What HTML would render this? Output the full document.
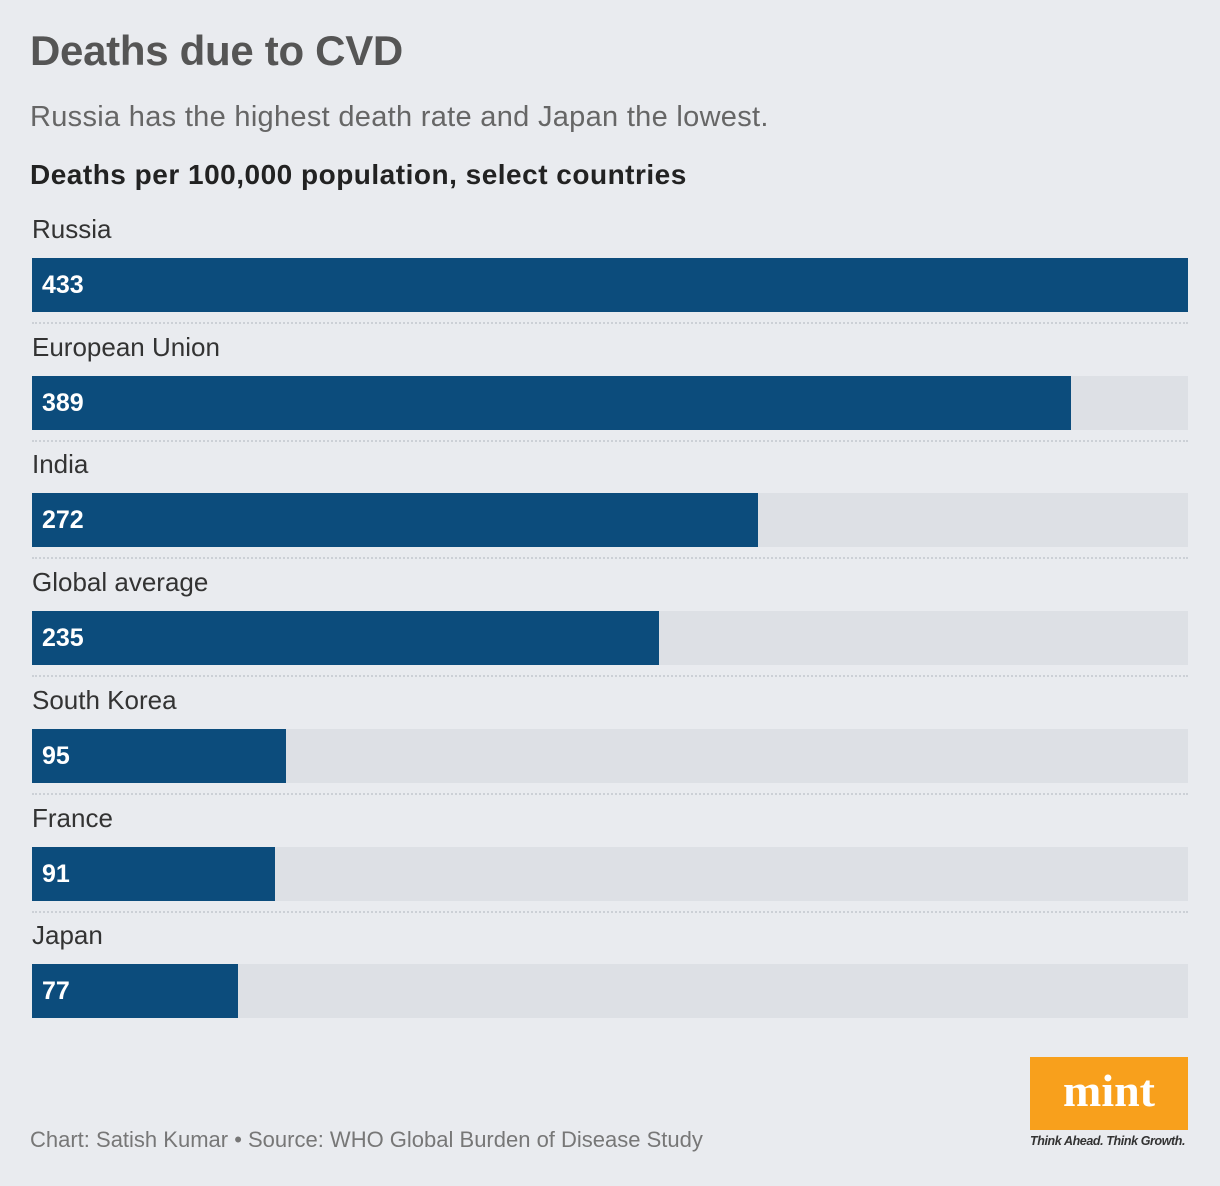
<!DOCTYPE html>
<html><head><meta charset="utf-8"><style>
body{margin:0;width:1220px;height:1186px;background:#e9ebef;font-family:"Liberation Sans",sans-serif;position:relative;overflow:hidden}
.abs{position:absolute}
#title{left:30px;top:27px;font-size:42px;font-weight:bold;color:#555;letter-spacing:-0.3px}
#sub{left:30px;top:101px;font-size:29px;color:#666;letter-spacing:0.3px}
#ctitle{left:30px;top:159px;font-size:28px;font-weight:bold;color:#222;letter-spacing:0.5px}
.lab{font-size:26px;color:#333;left:32px}
.track{left:32px;width:1156px;height:54px;background:#dde0e5}
.bar{left:32px;height:54px;background:#0c4c7c}
.val{left:42px;font-size:25px;font-weight:bold;color:#fff;line-height:54px}
.sep{left:32px;width:1156px;height:0;border-top:2px dotted #ccd0d6}
#foot{left:30px;top:1127px;font-size:22px;color:#777}
#logo{left:1030px;top:1057px;width:158px;height:73px;background:#f8a01c;color:#fff;font-family:"Liberation Serif",serif;font-weight:bold;font-size:46px;text-align:center;line-height:68px}
#tag{left:1030px;top:1134px;font-size:12.5px;font-style:italic;font-weight:bold;color:#333;letter-spacing:-0.4px}
</style></head><body>
<div class="abs" id="title">Deaths due to CVD</div>
<div class="abs" id="sub">Russia has the highest death rate and Japan the lowest.</div>
<div class="abs" id="ctitle">Deaths per 100,000 population, select countries</div>
<div id="chart"></div>
<div class="abs" id="foot">Chart: Satish Kumar • Source: WHO Global Burden of Disease Study</div>
<div class="abs" id="logo">mint</div>
<div class="abs" id="tag">Think Ahead. Think Growth.</div>
<script>
const categories=["Russia","European Union","India","Global average","South Korea","France","Japan"];
const values=[433,389,272,235,95,91,77];
const maxV=433, W=1156, top0=258, step=117.7;
const x=v=>v/maxV*W;
const c=document.getElementById('chart');
categories.forEach((cat,i)=>{
  const y=Math.round(top0+i*step);
  const l=document.createElement('div');l.className='abs lab';l.style.top=(y-44)+'px';l.textContent=cat;
  
  c.appendChild(l);
  const t=document.createElement('div');t.className='abs track';t.style.top=y+'px';
  
  c.appendChild(t);
  const b=document.createElement('div');b.className='abs bar';b.style.top=y+'px';b.style.width=x(values[i])+'px';
  
  c.appendChild(b);
  const v=document.createElement('div');v.className='abs val';v.style.top=y+'px';v.textContent=values[i];
  
  c.appendChild(v);
  if(i<categories.length-1){const s=document.createElement('div');s.className='abs sep';s.style.top=(y+64)+'px';
  
  c.appendChild(s);}
});
</script>
</body></html>
